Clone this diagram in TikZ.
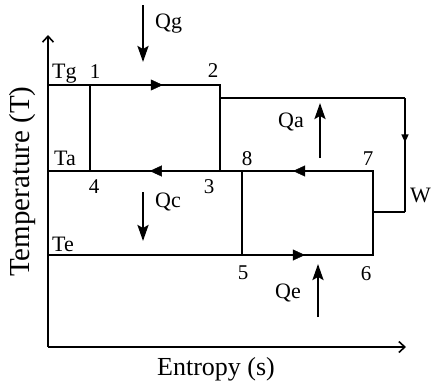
\documentclass[tikz,border=0pt]{standalone}
\usepackage{fontspec}
\setmainfont{Liberation Serif}
\usepackage{tikz}
\usetikzlibrary{arrows.meta, positioning, decorations.markings}

\begin{document}
\begin{tikzpicture}[
    x=1pt, y=-1pt, >=Stealth,
    axis/.style={line width=1.6pt, -{Straight Barb[length=6pt,width=11pt,line width=1.6pt]}},
    thin/.style={line width=1.3pt},
    cycle/.style={line width=2.8pt, line join=miter},
    midtip/.style={postaction={decorate, decoration={markings,
        mark=at position #1 with {\arrow{Triangle[length=12pt,width=11pt]}}}}},
    heat/.style={line width=2.4pt, -{Stealth[length=16pt,width=11pt,inset=3pt]}},
    lbl/.style={inner sep=0pt, font=\fontsize{22}{24}\selectfont},
    num/.style={inner sep=0pt, anchor=base, font=\fontsize{21}{24}\selectfont}
  ]
    \useasboundingbox (0,0) rectangle (431,383);

    % axes
    \coordinate (O) at (48,347);
    \coordinate (ytop) at (48,35);
    \coordinate (xend) at (406,347);
    \draw[axis] (O) -- (ytop);
    \draw[axis] (O) -- (xend);

    % corners of the two cycles
    \coordinate (c1) at (90,85);
    \coordinate (c2) at (220,85);
    \coordinate (c3) at (220,171);
    \coordinate (c4) at (90,171);
    \coordinate (c5) at (242,255);
    \coordinate (c6) at (373,255);
    \coordinate (c7) at (373,171);
    \coordinate (c8) at (242,171);
    \coordinate (tg) at (48,85);
    \coordinate (ta) at (48,171);
    \coordinate (te) at (48,255);

    % temperature levels
    \draw[thin] (tg) -- (c1);
    \draw[thin] (ta) -- (c4);
    \draw[thin] (c3) -- (c8);
    \draw[thin] (te) -- (c5);

    % upper cycle 1-2-3-4
    \draw[cycle] (c4) -- (c1) -- (c2) -- (c3) -- cycle;
    \path[midtip=0.56] (c1) -- (c2);
    \path[midtip=0.54] (c3) -- (c4);

    % lower cycle 5-6-7-8
    \draw[cycle] (c8) -- (c5) -- (c6) -- (c7) -- cycle;
    \path[midtip=0.61] (c7) -- (c8);
    \path[midtip=0.48] (c5) -- (c6);

    % work transfer
    \coordinate (w1) at (220,98);
    \coordinate (w2) at (405,98);
    \coordinate (w3) at (405,212);
    \coordinate (w4) at (373,212);
    \draw[thin, postaction={decorate, decoration={markings,
        mark=at position 0.39 with {\arrow{Triangle[length=8pt,width=7pt]}}}}]
      (w2) -- (w3);
    \draw[thin] (w1) -- (w2) (w3) -- (w4);

    % heat flows
    \coordinate (qg1) at (143,5);
    \coordinate (qg2) at (143,62);
    \coordinate (qa1) at (320,158);
    \coordinate (qa2) at (320,103);
    \coordinate (qc1) at (143,192);
    \coordinate (qc2) at (143,241);
    \coordinate (qe1) at (318,317);
    \coordinate (qe2) at (318,264);
    \draw[heat] (qg1) -- (qg2);
    \draw[heat] (qa1) -- (qa2);
    \draw[heat] (qc1) -- (qc2);
    \draw[heat] (qe1) -- (qe2);

    % labels
    \node (Tg) [lbl, anchor=base west] at (52,78) {Tg};
    \node (Ta) [lbl, anchor=base west] at (54,165) {Ta};
    \node (Te) [lbl, anchor=base west] at (52,251) {Te};
    \node (n1) [num] at (95,78) {1};
    \node (n2) [num] at (213,77) {2};
    \node (n3) [num] at (209,193) {3};
    \node (n4) [num] at (94,193) {4};
    \node (n5) [num] at (243,279) {5};
    \node (n6) [num] at (366,280) {6};
    \node (n7) [num] at (368,165) {7};
    \node (n8) [num] at (247,165) {8};
    \node (W) [lbl, anchor=base west] at (410,202) {W};
    \node (Qg) [lbl, anchor=base west] at (155,28) {Qg};
    \node (Qa) [lbl, anchor=base west] at (278,127) {Qa};
    \node (Qc) [lbl, anchor=base west] at (155,207) {Qc};
    \node (Qe) [lbl, anchor=base west] at (275,298) {Qe};
    \node (xlab) [lbl, anchor=base west, font=\fontsize{26}{28}\selectfont] at (157,375) {Entropy (s)};
    \node (ylab) [lbl, anchor=base west, rotate=90, font=\fontsize{29}{31}\selectfont] at (29,277) {Temperature (T)};
  \end{tikzpicture}
\end{document}
